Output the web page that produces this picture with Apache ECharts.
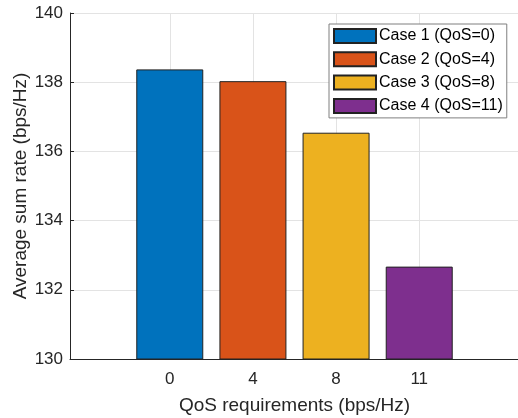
<!DOCTYPE html>
<html><head><meta charset="utf-8">
<script src="https://cdn.jsdelivr.net/npm/echarts@6/dist/echarts.min.js"></script>
<style>html,body{margin:0;padding:0;background:#fff}#c{width:518px;height:418px}</style>
</head><body><div id="c"></div>
<script>
const qosLabels = ['0', '4', '8', '11'];
const caseNames = ['Case 1 (QoS=0)', 'Case 2 (QoS=4)', 'Case 3 (QoS=8)', 'Case 4 (QoS=11)'];
const sumRates = [138.37, 138.03, 136.54, 132.67];
const colors = ['#0072BD', '#D95319', '#EDB120', '#7E2F8E'];
const yTicks = [130, 132, 134, 136, 138, 140];

const FONT = 'Liberation Sans';
const TXT = '#262626';
const idx = qosLabels.map((_, i) => i);

const series = caseNames.map((name, i) => ({
  name: name,
  type: 'bar',
  barWidth: 67,
  barGap: '-100%',
  data: [[i, sumRates[i]]],
  itemStyle: { color: colors[i], borderColor: '#222', borderWidth: 1 },
  z: 3
}));

const chart = echarts.init(document.getElementById('c'), null, { renderer: 'canvas' });
chart.setOption({
  animation: false,
  backgroundColor: '#fff',
  textStyle: { fontFamily: FONT },
  grid: { left: 70, right: -1, top: 13, bottom: 59, containLabel: false, outerBoundsMode: 'none' },
  legend: {
    orient: 'vertical', left: 329, top: 24,
    icon: 'rect',
    itemWidth: 42, itemHeight: 14, itemGap: 7.3,
    padding: [4, 4, 4, 4],
    borderColor: '#7f7f7f', borderWidth: 1, backgroundColor: '#fff',
    textStyle: { fontFamily: FONT, fontSize: 16, color: '#000', padding: [0, 0, 0, -2] },
    data: caseNames
  },
  xAxis: {
    type: 'value', min: -1.2, max: 4.2,
    name: 'QoS requirements (bps/Hz)', nameLocation: 'middle', nameGap: 37,
    nameTextStyle: { fontFamily: FONT, fontSize: 19, color: TXT },
    axisLine: { show: true, onZero: false, lineStyle: { color: '#262626', width: 1 } },
    axisTick: { show: true, inside: true, length: 4, customValues: idx, lineStyle: { color: '#262626' } },
    axisLabel: { customValues: idx, formatter: v => qosLabels[Math.round(v)], fontFamily: FONT, fontSize: 17, color: TXT, margin: 12 },
    splitLine: { show: true, lineStyle: { color: '#e3e3e3', width: 1 } }
  },
  yAxis: {
    type: 'value', min: yTicks[0], max: yTicks[yTicks.length - 1], interval: 2,
    name: 'Average sum rate (bps/Hz)', nameLocation: 'middle', nameGap: 40,
    nameMoveOverlap: false,
    nameTextStyle: { fontFamily: FONT, fontSize: 19, color: TXT },
    axisLine: { show: true, onZero: false, lineStyle: { color: '#262626', width: 1 } },
    axisTick: { show: true, inside: true, length: 4, lineStyle: { color: '#262626' } },
    axisLabel: { fontFamily: FONT, fontSize: 17, color: TXT, margin: 7 },
    splitLine: { show: true, lineStyle: { color: '#e3e3e3', width: 1 } }
  },
  series: series
});
</script></body></html>
